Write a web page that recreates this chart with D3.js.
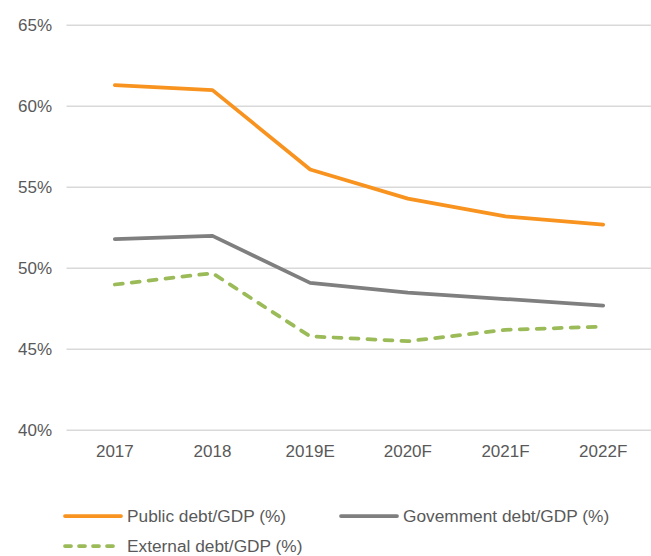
<!DOCTYPE html>
<html>
<head>
<meta charset="utf-8">
<script src="https://cdn.jsdelivr.net/npm/d3@7"></script>
<style>
  html, body { margin: 0; padding: 0; background: #fff; }
  svg { display: block; }
  text { font-family: "Liberation Sans", Arial, sans-serif; fill: #595959; }
</style>
</head>
<body>
<svg id="chart" width="651" height="556"></svg>
<script>
// Debt ratios, share of GDP
const years = ["2017", "2018", "2019E", "2020F", "2021F", "2022F"];
const publicDebt = [61.3, 61.0, 56.1, 54.3, 53.2, 52.7];
const governmentDebt = [51.8, 52.0, 49.1, 48.5, 48.1, 47.7];
const externalDebt = [49.0, 49.7, 45.8, 45.5, 46.2, 46.4];
const yTicks = [40, 45, 50, 55, 60, 65];

const series = [
  { name: "Public debt/GDP (%)", values: publicDebt, color: "#F7931E", dash: null },
  { name: "Govemment debt/GDP (%)", values: governmentDebt, color: "#7F7F7F", dash: null },
  { name: "External debt/GDP (%)", values: externalDebt, color: "#9BBB59", dash: "8,9" }
];

const svg = d3.select("#chart");
const axisFont = "17px";
const legendFont = "17.3px";

const x = d3.scaleBand().domain(years).range([66, 652]);
const y = d3.scaleLinear().domain([40, 65]).range([430.3, 25.3]);
const cx = d => x(d) + x.bandwidth() / 2;

// Horizontal gridlines
svg.append("g")
  .selectAll("line")
  .data(yTicks)
  .join("line")
  .attr("x1", 66.5)
  .attr("x2", 651)
  .attr("y1", d => y(d))
  .attr("y2", d => y(d))
  .attr("stroke", "#D9D9D9")
  .attr("stroke-width", 1.5);

// Y axis labels
const yAxis = svg.append("g")
  .attr("transform", "translate(52,0)")
  .call(d3.axisLeft(y).tickValues(yTicks).tickFormat(d => d + "%").tickSize(0).tickPadding(0));
yAxis.select(".domain").remove();
yAxis.selectAll("text")
  .attr("font-size", axisFont)
  .attr("font-family", "Liberation Sans, Arial, sans-serif")
  .attr("fill", "#595959");

// X axis labels
const xAxis = svg.append("g")
  .attr("transform", "translate(0,445)")
  .call(d3.axisBottom(x).tickSize(0).tickPadding(0));
xAxis.select(".domain").remove();
xAxis.selectAll("text")
  .attr("font-size", axisFont)
  .attr("font-family", "Liberation Sans, Arial, sans-serif")
  .attr("fill", "#595959");

// Series lines
const line = d3.line()
  .x((d, i) => cx(years[i]))
  .y(d => y(d));

svg.append("g")
  .selectAll("path")
  .data(series)
  .join("path")
  .attr("d", s => line(s.values))
  .attr("fill", "none")
  .attr("stroke", s => s.color)
  .attr("stroke-width", 3.75)
  .attr("stroke-linecap", "round")
  .attr("stroke-linejoin", "round")
  .attr("stroke-dasharray", s => s.dash);

// Legend
const legendPos = [
  { x: 64, y: 516 },
  { x: 340, y: 516 },
  { x: 64, y: 546 }
];
const legend = svg.append("g")
  .selectAll("g")
  .data(series)
  .join("g")
  .attr("transform", (s, i) => `translate(${legendPos[i].x},${legendPos[i].y})`);

legend.append("line")
  .attr("x1", 1)
  .attr("x2", 57)
  .attr("y1", 0)
  .attr("y2", 0)
  .attr("stroke", s => s.color)
  .attr("stroke-width", 3.75)
  .attr("stroke-linecap", "round")
  .attr("stroke-dasharray", s => s.dash ? "6,8" : null);

legend.append("text")
  .attr("x", 63)
  .attr("y", 0)
  .attr("dy", "0.32em")
  .attr("font-size", legendFont)
  .text(s => s.name);
</script>
</body>
</html>
